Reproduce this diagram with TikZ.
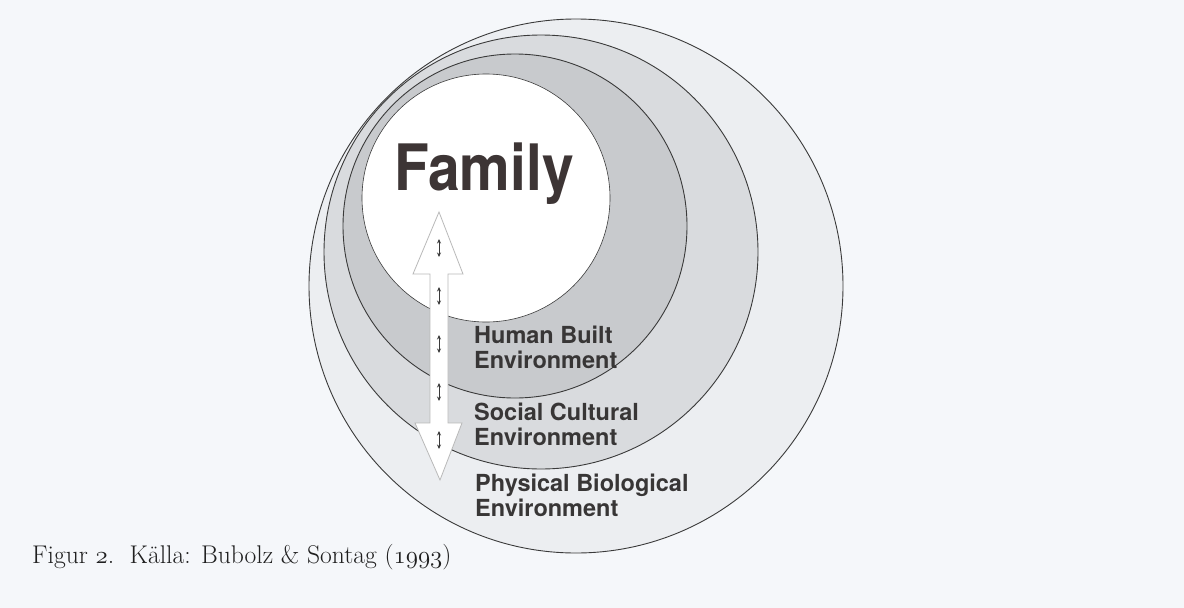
\documentclass[tikz,border=0pt]{standalone}
\usepackage{fontspec}
\usetikzlibrary{arrows.meta}
\newfontfamily\heros{TeX Gyre Heros}
\newfontfamily\famfont{TeX Gyre Heros}[FakeStretch=0.89]
\newcommand\osfdigits[1]{{\fontencoding{OML}\fontfamily{cmm}\fontseries{m}\fontshape{it}\selectfont #1}}
\definecolor{bg}{HTML}{F5F7FA}
\definecolor{ringA}{HTML}{ECEEF1}
\definecolor{ringB}{HTML}{D9DBDE}
\definecolor{ringC}{HTML}{C8CACD}
\definecolor{lblcol}{HTML}{383636}
\definecolor{famcol}{HTML}{3D3535}
\definecolor{edge}{HTML}{3A3A3A}
\tikzset{
  ring/.style={circle, draw=edge, line width=0.9pt, inner sep=0pt},
  lbl/.style={anchor=base west, inner sep=0pt, text=lblcol, font=\heros\bfseries\fontsize{23.5}{25}\selectfont},
  bigarrow/.style={fill=white, draw=gray!55, line width=0.8pt, line join=miter},
  tinyarrow/.style={{Stealth[length=4.5pt,width=4pt]}-{Stealth[length=4.5pt,width=4pt]}, line width=0.9pt, draw=edge}
}
\begin{document}
\begin{tikzpicture}[x=1pt,y=-1pt]
\fill[bg] (0,0) rectangle (1184,608);
\useasboundingbox (0,0) rectangle (1184,608);
% nested circles
\node[ring, fill=ringA, minimum size=534pt] (phys) at (576,286) {};
\node[ring, fill=ringB, minimum size=434pt] (soc) at (541,252) {};
\node[ring, fill=ringC, minimum size=344pt] (hum) at (515,226) {};
\node[ring, fill=white, line width=0.6pt, minimum size=248pt] (fam) at (486,198) {};
% double arrow
\draw[bigarrow] (439,212) -- (463,274) -- (448,274) -- (448,423) -- (462,423)
  -- (440,480) -- (415,423) -- (430,423) -- (430,274) -- (413,274) -- cycle;
\foreach \yy [count=\i] in {248,296,344,392,440} {
  \coordinate (t\i) at (439,\yy-9);
  \coordinate (b\i) at (439,\yy+9);
  \draw[tinyarrow] (t\i) -- (b\i);
}
% texts
\node[anchor=base west, inner sep=0pt, text=famcol, font=\famfont\bfseries\fontsize{64}{64}\selectfont] (family) at (394,190) {Family};
\node[lbl] (hb1) at (474,343) {Human Built};
\node[lbl] (hb2) at (474,368) {Environment};
\node[lbl] (sc1) at (474,420) {Social Cultural};
\node[lbl] (sc2) at (474,445) {Environment};
\node[lbl] (pb1) at (475,491) {Physical Biological};
\node[lbl] (pb2) at (475,516) {Environment};
\node[anchor=base west, inner sep=0pt, text=black!88, font=\fontsize{25.6}{26}\selectfont] (cap) at (32,563)
  {Figur \osfdigits{2}.\ \ Källa: Bubolz \& Sontag (\osfdigits{1993})};
\end{tikzpicture}
\end{document}
